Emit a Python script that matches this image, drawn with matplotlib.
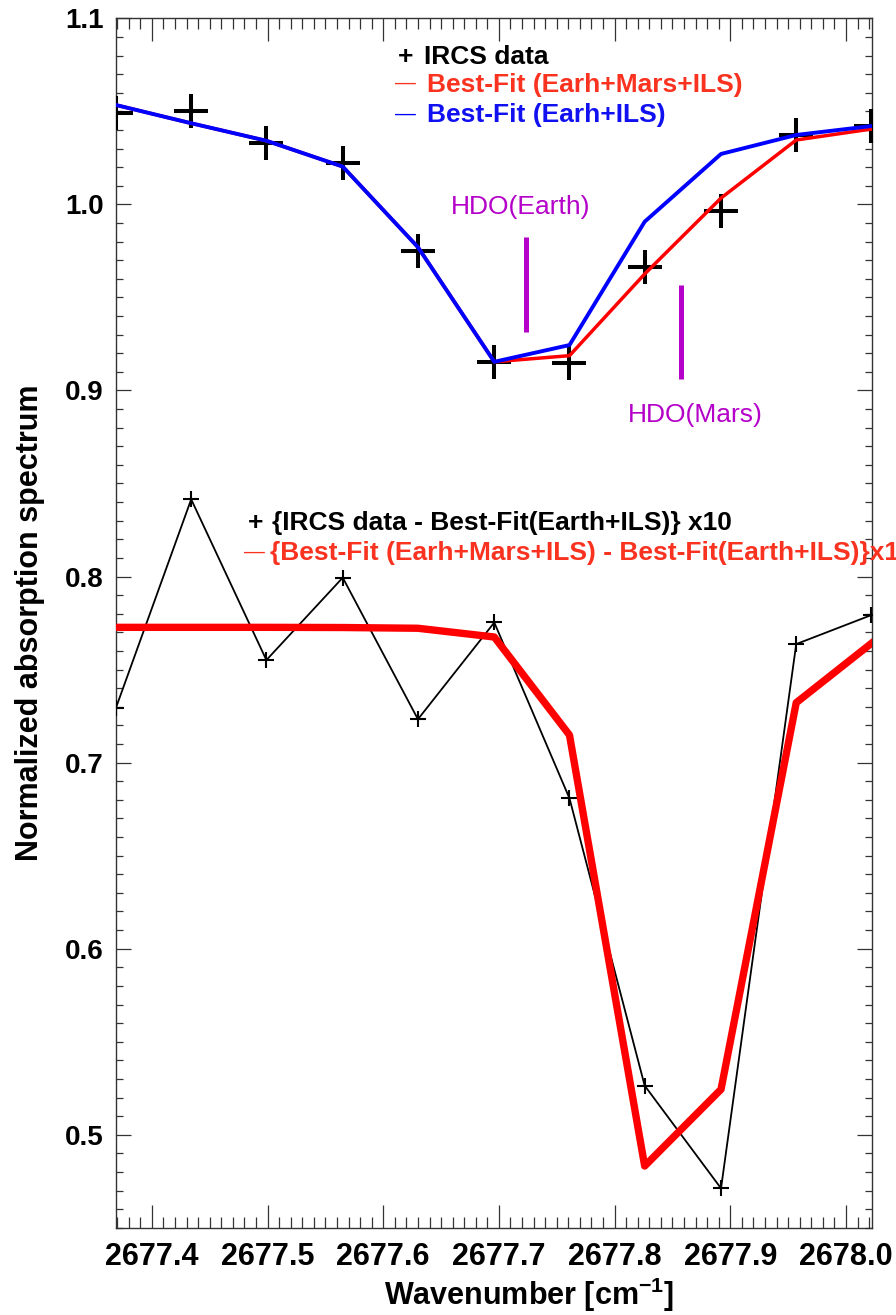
import matplotlib
matplotlib.use("Agg")
from matplotlib import pyplot as plt
from matplotlib.ticker import MultipleLocator

plt.rcParams['font.family'] = ['Liberation Sans', 'DejaVu Sans']
plt.rcParams['mathtext.fontset'] = 'custom'
plt.rcParams['mathtext.rm'] = 'Liberation Sans:bold'
plt.rcParams['mathtext.bf'] = 'Liberation Sans:bold'
plt.rcParams['mathtext.default'] = 'bf'

# spectral grid [cm^-1]
wavenumber = [2677.369, 2677.434, 2677.499, 2677.565, 2677.630, 2677.696,
              2677.761, 2677.826, 2677.892, 2677.957, 2678.022]

# normalized spectra
ircs_data = [1.0493, 1.0503, 1.0328, 1.0224, 0.9750, 0.9154,
             0.9150, 0.9662, 0.9966, 1.0373, 1.0423]
fit_earth_mars = [1.0534, 1.0436, 1.0342, 1.0203, 0.9770, 0.9154,
                  0.9187, 0.9626, 1.0034, 1.0346, 1.0405]
fit_earth = [1.0534, 1.0436, 1.0342, 1.0203, 0.9770, 0.9154,
             0.9244, 0.9907, 1.0271, 1.0373, 1.0421]

# residuals x10 (shifted)
resid_data = [0.7295, 0.8415, 0.7551, 0.7994, 0.7233, 0.7753,
              0.6808, 0.5264, 0.4712, 0.7637, 0.7793]
resid_fit = [0.7727, 0.7727, 0.7727, 0.7726, 0.7722, 0.7675,
             0.7148, 0.4832, 0.5244, 0.7322, 0.7641]

# HDO line centres and marker extents
hdo_earth_x, hdo_earth_y = 2677.7234, (0.9316, 0.9823)
hdo_mars_x, hdo_mars_y = 2677.8574, (0.9060, 0.9567)

hdo_col = '#b400c8'
red_txt = '#fa3220'

fig = plt.figure(figsize=(8.96, 13.15), dpi=100)
ax = fig.add_axes([0.12946, 0.06631, 0.84375, 0.91977])

# top panel: data + two fits
ax.plot(wavenumber, ircs_data, 'k+', ms=24, mew=2.9, zorder=3)
ax.plot(wavenumber, fit_earth_mars, color='#ff0000', lw=2.5, zorder=4)
ax.plot(wavenumber, fit_earth, color='#0000ff', lw=2.8, zorder=5)

# HDO markers
ax.plot([hdo_earth_x, hdo_earth_x], hdo_earth_y, color=hdo_col, lw=3.6,
        solid_capstyle='butt')
ax.plot([hdo_mars_x, hdo_mars_x], hdo_mars_y, color=hdo_col, lw=3.6,
        solid_capstyle='butt')
ax.text(2677.7191, 0.9987, 'HDO(Earth)', color=hdo_col, fontsize=19,
        ha='center', va='center')
ax.text(2677.8695, 0.8868, 'HDO(Mars)', color=hdo_col, fontsize=19,
        ha='center', va='center')

# bottom panel: residuals
ax.plot(wavenumber, resid_data, 'k-', lw=1.3, zorder=3)
ax.plot(wavenumber, resid_data, 'k+', ms=12, mew=1.5, zorder=3)
ax.plot(wavenumber, resid_fit, color='#ff0000', lw=5.3, zorder=4)

# legend texts
ax.text(2677.6193, 1.0794, '+', fontsize=19, fontweight='bold',
        ha='center', va='center')
ax.text(2677.6355, 1.0794, 'IRCS data', fontsize=19, fontweight='bold',
        ha='left', va='center')
ax.text(2677.6193, 1.0651, '\u2014', fontsize=15, color=red_txt,
        ha='center', va='center')
ax.text(2677.6378, 1.0642, 'Best-Fit (Earh+Mars+ILS)', fontsize=19,
        fontweight='bold', color=red_txt, ha='left', va='center')
ax.text(2677.6193, 1.0486, '\u2014', fontsize=15, color='#0000ff',
        ha='center', va='center')
ax.text(2677.6378, 1.0480, 'Best-Fit (Earh+ILS)', fontsize=19,
        fontweight='bold', color='#1010f0', ha='left', va='center')

ax.text(2677.4901, 0.8286, '+', fontsize=19, fontweight='bold',
        ha='center', va='center')
ax.text(2677.5036, 0.8286, '{IRCS data - Best-Fit(Earth+ILS)} x10',
        fontsize=19, fontweight='bold', ha='left', va='center')
ax.text(2677.4891, 0.8128, '\u2014', fontsize=15, color=red_txt,
        ha='center', va='center')
ax.text(2677.5021, 0.8126,
        '{Best-Fit (Earh+Mars+ILS) - Best-Fit(Earth+ILS)}x10',
        fontsize=19, fontweight='bold', color=red_txt, ha='left',
        va='center', clip_on=False)

ax.set_xlim(2677.369, 2678.0225)
ax.set_ylim(0.45, 1.1)

ax.xaxis.set_major_locator(MultipleLocator(0.1))
ax.xaxis.set_minor_locator(MultipleLocator(0.01))
ax.yaxis.set_major_locator(MultipleLocator(0.1))
ax.yaxis.set_minor_locator(MultipleLocator(0.01))
ax.xaxis.set_major_formatter(plt.FuncFormatter(lambda v, p: '%.1f' % v))
ax.yaxis.set_major_formatter(plt.FuncFormatter(lambda v, p: '%.1f' % v))

ax.tick_params(which='both', direction='in', top=True, right=True,
               width=0.9, color='#333333')
ax.tick_params(axis='x', which='major', length=16.5, labelsize=22, pad=10)
ax.tick_params(axis='x', which='minor', length=8)
ax.tick_params(axis='y', which='major', length=11, labelsize=20, pad=9)
ax.tick_params(axis='y', which='minor', length=5)
for lab in ax.get_xticklabels() + ax.get_yticklabels():
    lab.set_fontweight('bold')
for s in ax.spines.values():
    s.set_linewidth(1.0)
    s.set_color('#333333')

ax.set_xlabel('Wavenumber [cm$^{-1}$]', fontsize=22, fontweight='bold')
ax.xaxis.set_label_coords(0.546, -0.0395)
ax.set_ylabel('Normalized absorption spectrum', fontsize=22,
              fontweight='bold', labelpad=14)

fig.savefig('out.png', dpi=100)
